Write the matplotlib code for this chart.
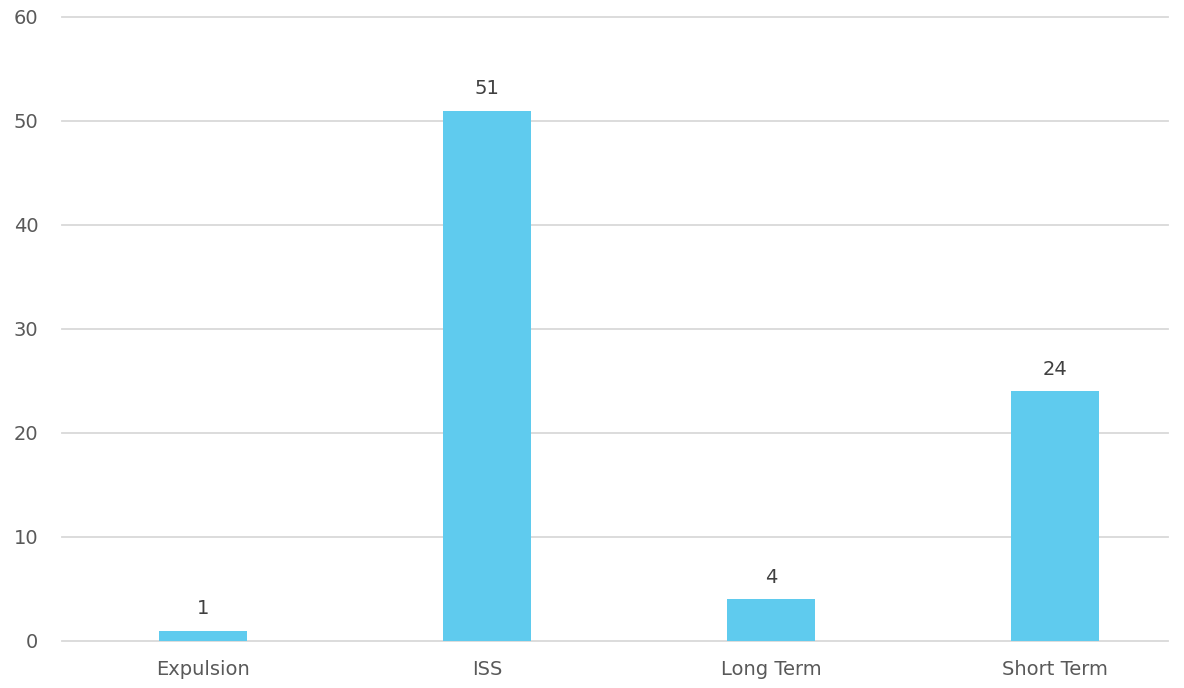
import matplotlib
matplotlib.use('Agg')
import matplotlib.pyplot as plt

# data
categories = ["Expulsion", "ISS", "Long Term", "Short Term"]
counts = [1, 51, 4, 24]

fig = plt.figure(figsize=(11.84, 6.88), dpi=100)
ax = fig.add_axes([62/1184, 1 - 641/688, 1106/1184, 624/688])

x = range(len(categories))
bars = ax.bar(x, counts, width=0.31, color='#5FCBEE', zorder=3)

for b, v in zip(bars, counts):
    ax.text(b.get_x() + b.get_width()/2, v + 1.2, str(v), ha='center', va='bottom',
            fontsize=14, color='#404040')

ax.set_ylim(0, 60)
ax.set_xlim(-0.496, 3.398)
ax.set_yticks(range(0, 61, 10))
ax.set_xticks(list(x))
ax.set_xticklabels(categories)
ax.grid(axis='y', color='#d9d9d9', linewidth=1.3, zorder=0)
for gl in ax.get_ygridlines():
    gl.set_clip_on(False)
for s in ax.spines.values():
    s.set_visible(False)
ax.tick_params(length=0, labelsize=14, colors='#595959')
ax.tick_params(axis='y', pad=17)
ax.tick_params(axis='x', pad=14)

fig.savefig('out.png', dpi=100)
